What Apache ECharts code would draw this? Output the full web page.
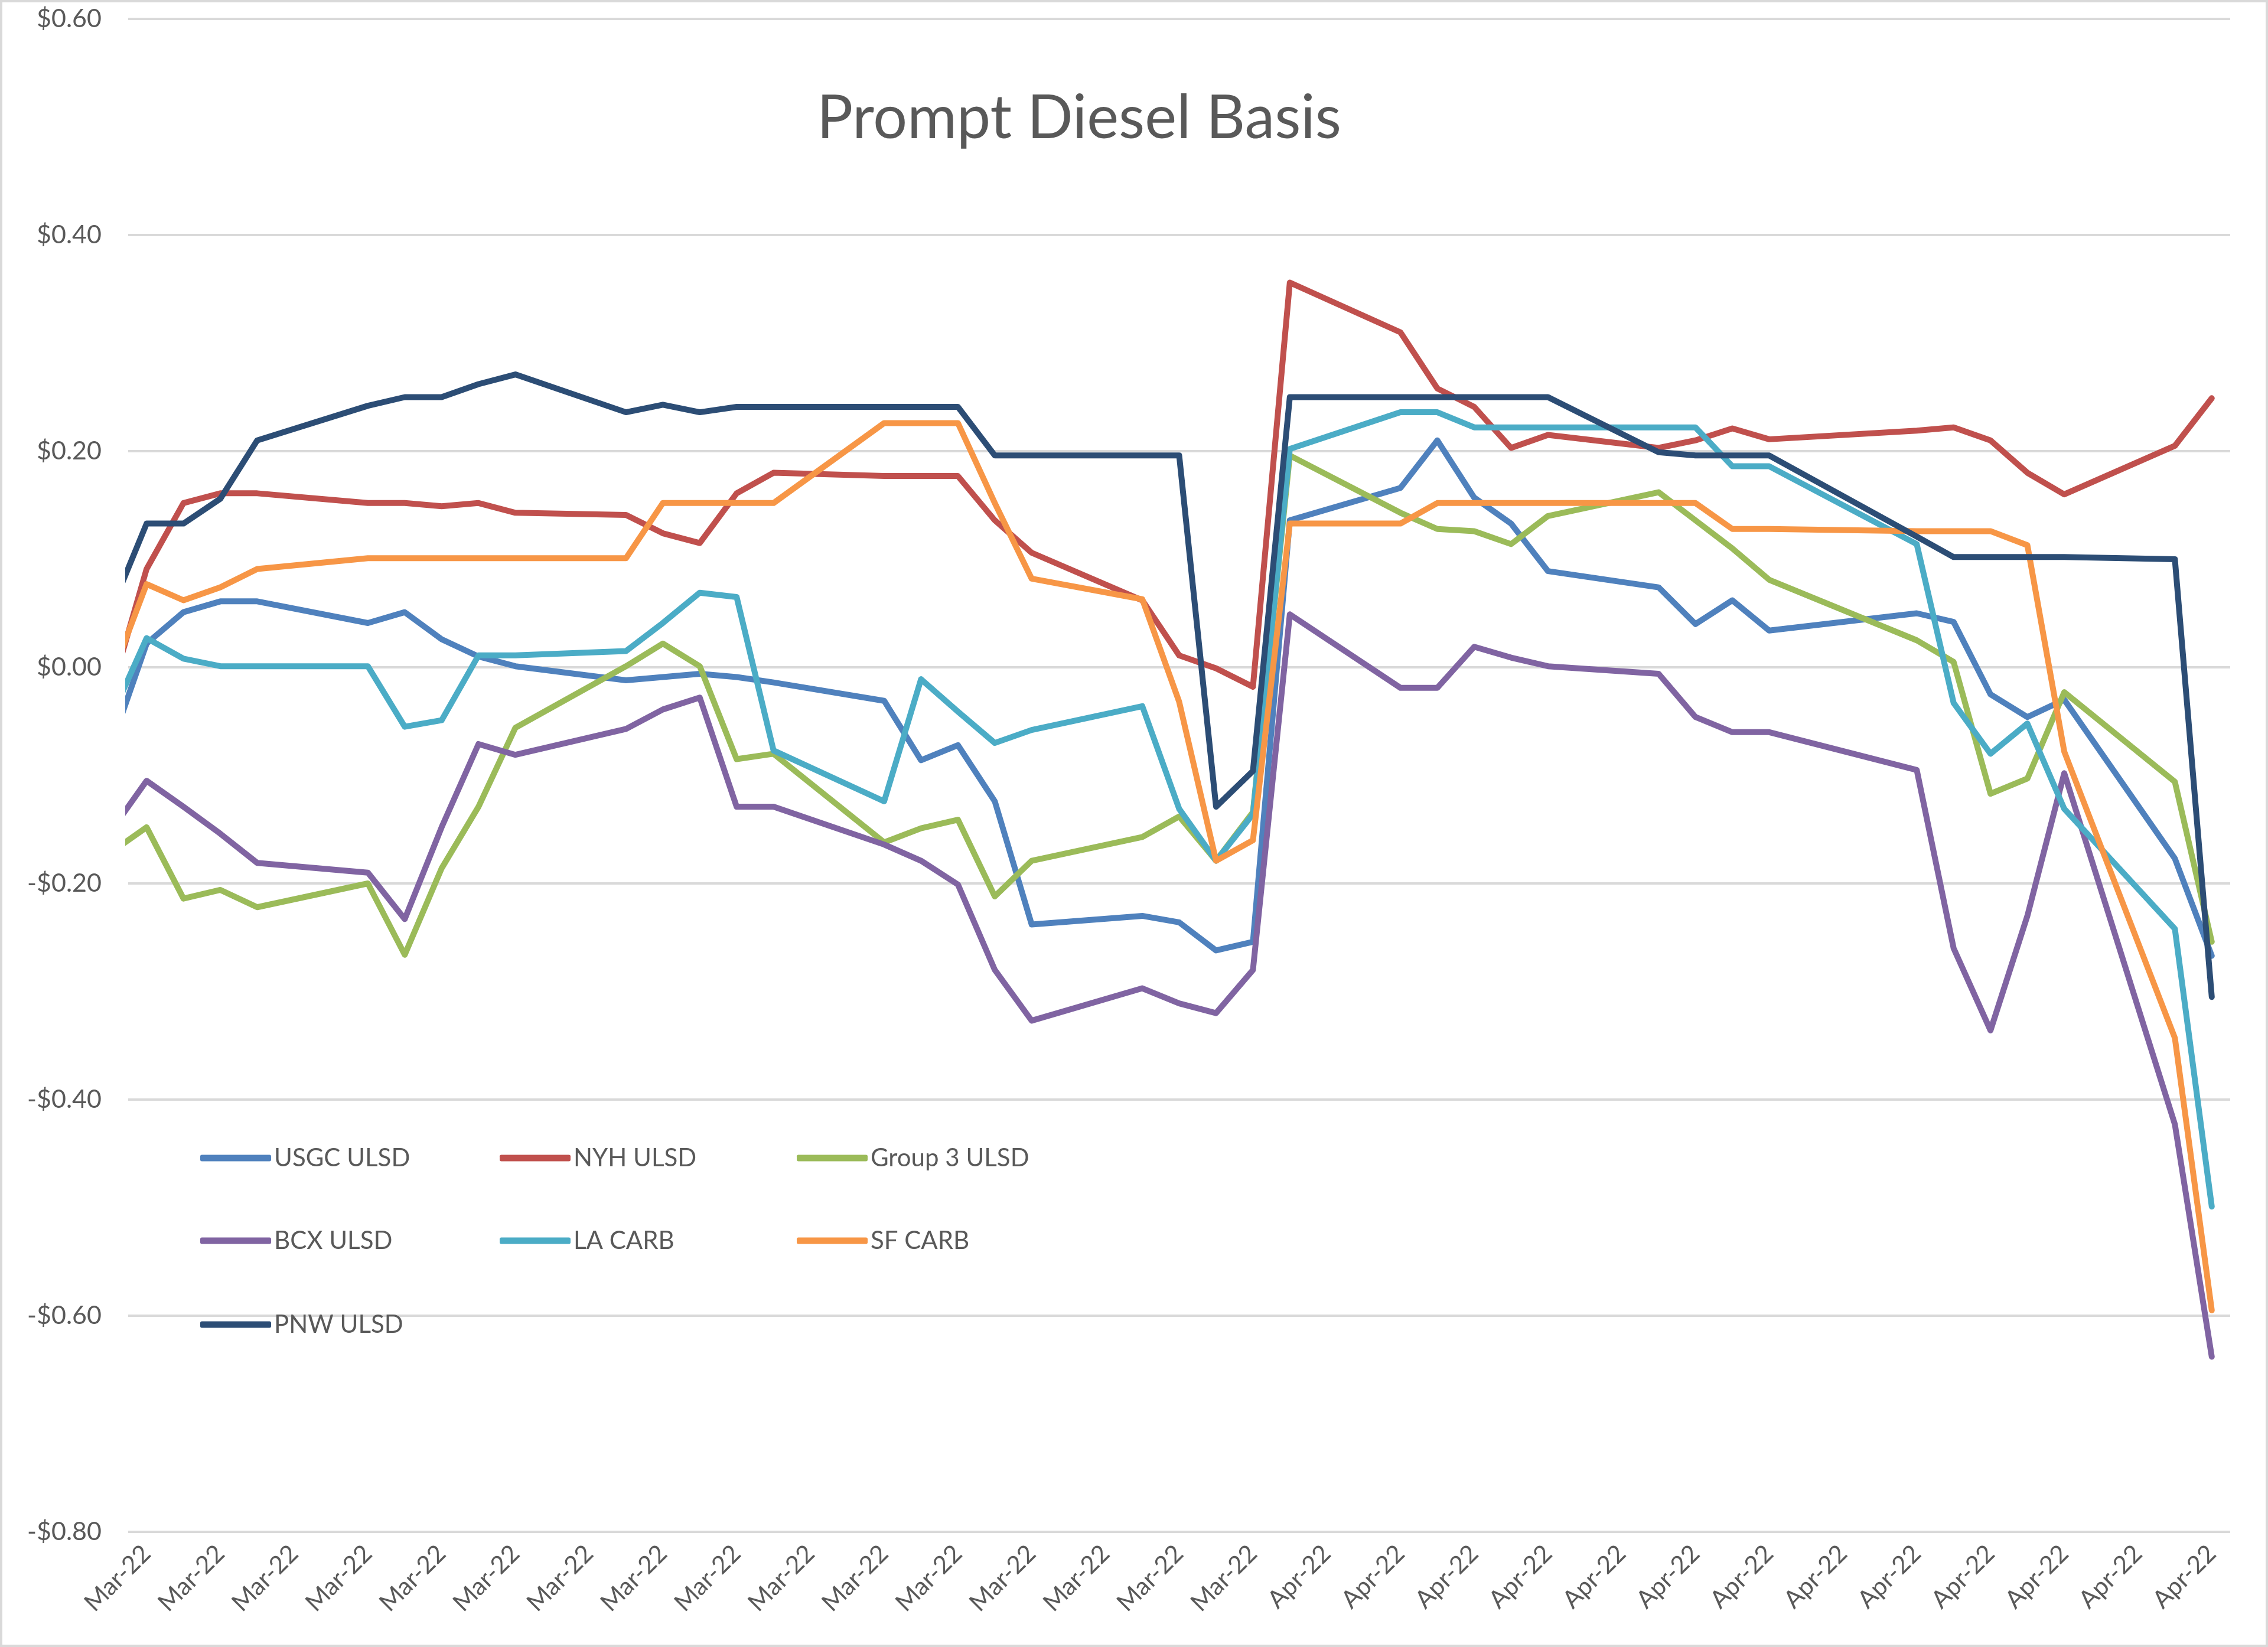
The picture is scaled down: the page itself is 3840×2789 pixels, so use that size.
<!DOCTYPE html>
<html>
<head>
<meta charset="utf-8">
<title>Prompt Diesel Basis</title>
<script src="https://cdn.jsdelivr.net/npm/echarts@6/dist/echarts.min.js"></script>
<style>
  html, body { margin: 0; padding: 0; background: #fff; }
  #chart { width: 3840px; height: 2789px; }
</style>
</head>
<body>
<div id="chart"></div>
<script>
// trading days (Feb 28 point sits just left of the axis start and gets clipped)
const dates = [
  '2022-02-28', '2022-03-01', '2022-03-02', '2022-03-03', '2022-03-04',
  '2022-03-07', '2022-03-08', '2022-03-09', '2022-03-10', '2022-03-11',
  '2022-03-14', '2022-03-15', '2022-03-16', '2022-03-17', '2022-03-18',
  '2022-03-21', '2022-03-22', '2022-03-23', '2022-03-24', '2022-03-25',
  '2022-03-28', '2022-03-29', '2022-03-30', '2022-03-31', '2022-04-01',
  '2022-04-04', '2022-04-05', '2022-04-06', '2022-04-07', '2022-04-08',
  '2022-04-11', '2022-04-12', '2022-04-13', '2022-04-14',
  '2022-04-18', '2022-04-19', '2022-04-20', '2022-04-21', '2022-04-22',
  '2022-04-25', '2022-04-26'
]

const usgc = [-0.076, 0.022, 0.051, 0.061, 0.061, 0.041, 0.051, 0.026, 0.010, 0.001,
  -0.012, -0.009, -0.006, -0.009, -0.014, -0.031, -0.086, -0.072, -0.124, -0.238,
  -0.230, -0.236, -0.262, -0.254, 0.136, 0.166, 0.210, 0.157, 0.133, 0.089,
  0.074, 0.040, 0.062, 0.034, 0.050, 0.042, -0.025, -0.046, -0.030, -0.177, -0.267]
const nyh = [-0.027, 0.091, 0.152, 0.161, 0.161, 0.152, 0.152, 0.149, 0.152, 0.143,
  0.141, 0.124, 0.115, 0.161, 0.180, 0.177, 0.177, 0.177, 0.136, 0.106,
  0.062, 0.011, -0.001, -0.018, 0.356, 0.310, 0.258, 0.241, 0.203, 0.215,
  0.203, 0.210, 0.221, 0.211, 0.219, 0.222, 0.210, 0.180, 0.160, 0.205, 0.249]
const group3 = [-0.172, -0.148, -0.214, -0.206, -0.222, -0.200, -0.266, -0.186, -0.129, -0.056,
  0.001, 0.022, 0.001, -0.085, -0.080, -0.162, -0.149, -0.141, -0.212, -0.179,
  -0.157, -0.138, -0.179, -0.134, 0.196, 0.143, 0.128, 0.126, 0.114, 0.140,
  0.162, 0.136, 0.110, 0.081, 0.025, 0.005, -0.117, -0.103, -0.023, -0.106, -0.254]
const bcx = [-0.153, -0.105, -0.129, -0.154, -0.181, -0.190, -0.233, -0.148, -0.071, -0.081,
  -0.057, -0.039, -0.028, -0.129, -0.129, -0.164, -0.179, -0.201, -0.280, -0.327,
  -0.297, -0.311, -0.320, -0.280, 0.049, -0.019, -0.019, 0.019, 0.009, 0.001,
  -0.006, -0.046, -0.060, -0.060, -0.095, -0.260, -0.336, -0.230, -0.098, -0.423, -0.638]
const laCarb = [-0.049, 0.027, 0.008, 0.001, 0.001, 0.001, -0.055, -0.049, 0.011, 0.011,
  0.015, 0.041, 0.069, 0.065, -0.077, -0.124, -0.011, -0.041, -0.070, -0.058,
  -0.036, -0.131, -0.179, -0.136, 0.202, 0.236, 0.236, 0.222, 0.222, 0.222,
  0.222, 0.222, 0.186, 0.186, 0.114, -0.033, -0.080, -0.052, -0.131, -0.242, -0.499]
const sfCarb = [-0.013, 0.077, 0.062, 0.074, 0.091, 0.101, 0.101, 0.101, 0.101, 0.101,
  0.101, 0.152, 0.152, 0.152, 0.152, 0.226, 0.226, 0.226, 0.152, 0.082,
  0.063, -0.032, -0.179, -0.160, 0.133, 0.133, 0.152, 0.152, 0.152, 0.152,
  0.152, 0.152, 0.128, 0.128, 0.126, 0.126, 0.126, 0.113, -0.078, -0.343, -0.595]
const pnw = [0.050, 0.133, 0.133, 0.156, 0.210, 0.242, 0.250, 0.250, 0.262, 0.271,
  0.236, 0.243, 0.236, 0.241, 0.241, 0.241, 0.241, 0.241, 0.196, 0.196,
  0.196, 0.196, -0.129, -0.096, 0.250, 0.250, 0.250, 0.250, 0.250, 0.250,
  0.199, 0.196, 0.196, 0.196, 0.121, 0.102, 0.102, 0.102, 0.102, 0.100, -0.305]

const seriesNames = ['USGC ULSD', 'NYH ULSD', 'Group 3 ULSD', 'BCX ULSD', 'LA CARB', 'SF CARB', 'PNW ULSD']
const seriesValues = [usgc, nyh, group3, bcx, laCarb, sfCarb, pnw]
const colors = ['#4F81BD', '#C0504D', '#9BBB59', '#8064A2', '#4BACC6', '#F79646', '#2C4D75']

// axis runs Mar 1 .. Apr 26, a label every second day
const axisStart = '2022-03-01'
const axisEnd = '2022-04-26'
const monthNames = ['Jan', 'Feb', 'Mar', 'Apr', 'May', 'Jun', 'Jul', 'Aug', 'Sep', 'Oct', 'Nov', 'Dec']

const DAY = 86400000
const t0 = Date.parse(axisStart + 'T00:00:00Z')
const dayIndex = s => Math.round((Date.parse(s + 'T00:00:00Z') - t0) / DAY)
const lastDay = dayIndex(axisEnd)
const tickDays = []
for (let d = 0; d <= lastDay; d += 2) tickDays.push(d)

const dayLabel = d => {
  const dt = new Date(t0 + d * DAY)
  return monthNames[dt.getUTCMonth()] + '-' + String(dt.getUTCFullYear()).slice(2)
}

const fontFamily = 'Lato, "Open Sans", sans-serif'
const textColor = '#595959'

// legend laid out like the excel one: 3 fixed columns
const legendCols = [339, 846, 1349]
const legendRows = [1940, 2080, 2222]

const chart = echarts.init(document.getElementById('chart'))

const option = {
  animation: false,
  backgroundColor: '#fff',
  title: {
    text: 'Prompt Diesel Basis',
    left: 1378,
    top: 145,
    textStyle: { fontFamily: fontFamily, fontSize: 102, fontWeight: 'normal', color: textColor }
  },
  graphic: [{
    type: 'rect',
    shape: { x: 2, y: 2, width: 3836, height: 2785 },
    style: { fill: 'none', stroke: '#D9D9D9', lineWidth: 4 },
    silent: true
  }],
  legend: seriesNames.map((name, i) => ({
    data: [name],
    left: legendCols[i % 3],
    top: legendRows[Math.floor(i / 3)],
    icon: 'roundRect',
    itemWidth: 120,
    itemHeight: 11,
    itemGap: 0,
    padding: 0,
    textStyle: { fontFamily: fontFamily, fontSize: 42, color: textColor }
  })),
  grid: { left: 217, right: 64, top: 32, bottom: 195, containLabel: false },
  xAxis: {
    type: 'value',
    min: -0.5,
    max: lastDay + 0.5,
    splitLine: { show: false },
    axisLine: { show: false },
    axisTick: { show: false },
    axisLabel: {
      customValues: tickDays,
      rotate: 45,
      margin: 30,
      fontFamily: fontFamily,
      fontSize: 42,
      color: textColor,
      formatter: v => dayLabel(v)
    }
  },
  yAxis: {
    type: 'value',
    min: -0.8,
    max: 0.6,
    interval: 0.2,
    axisLine: { show: false },
    axisTick: { show: false },
    splitLine: { lineStyle: { color: '#D9D9D9', width: 4 } },
    axisLabel: {
      margin: 45,
      fontFamily: fontFamily,
      fontSize: 43,
      color: textColor,
      formatter: v => {
        const r = Math.round(v * 100) / 100
        return (r < 0 ? '-' : '') + '$' + Math.abs(r).toFixed(2)
      }
    }
  },
  series: seriesNames.map((name, i) => ({
    name: name,
    type: 'line',
    showSymbol: false,
    symbol: 'none',
    clip: true,
    color: colors[i],
    lineStyle: { width: 10, color: colors[i], join: 'round', cap: 'round' },
    emphasis: { disabled: true },
    data: dates.map((d, k) => [dayIndex(d), seriesValues[i][k]])
  }))
}

chart.setOption(option)
window.addEventListener('resize', () => chart.resize())
</script>
</body>
</html>
